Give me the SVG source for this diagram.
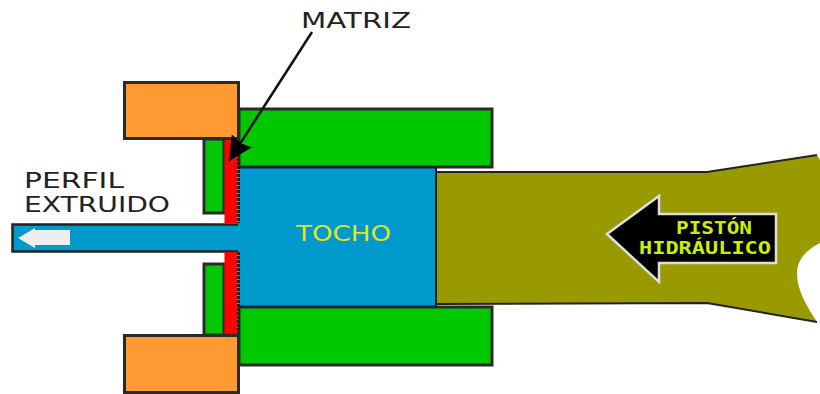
<svg xmlns="http://www.w3.org/2000/svg" width="820" height="394" viewBox="0 0 820 394">
<style>
.k{stroke:#2a2a2a;stroke-width:3}
.o{fill:#ff9a33}.g{fill:#00c800}.b{fill:#0099cc}.r{fill:#ff0000}
.t{font-family:"DejaVu Sans",sans-serif;font-size:22px;fill:#222}
.y{font-family:"DejaVu Sans Mono","Liberation Mono",monospace;font-weight:700;font-size:17px;fill:#c8f000}
</style>
<defs><marker id="ah" markerUnits="userSpaceOnUse" markerWidth="28" markerHeight="28" refX="24" refY="12" orient="auto"><path d="M0,0 L24,12 L0,24 L3,12 Z" fill="#000"/></marker></defs>
<rect width="820" height="394" fill="#fff"/>
<g id="piston">
<path d="M436,172 L707,172 L817,155 L820,160 L820,243 C806,250 797,260 797,273 C797,290 806,305 817,322 L707,303 L436,304 Z" fill="#999900"/>
<path d="M436,172 L707,172 L817,155 M817,322 L707,303 L436,304" fill="none" stroke="#222" stroke-width="2"/>
</g>
<g id="contenedor-superior"><rect class="g k" x="239" y="109" width="253" height="58"/></g>
<g id="contenedor-inferior"><rect class="g k" x="239" y="307" width="253" height="58"/></g>
<g id="perfil"><path class="b" d="M12.500,224.500 H238 V167 H436 V307 H238 V251.500 H12.500 Z"/>
<path d="M238,224.500 H12.500 V251.500 H238" fill="none" stroke="#222" stroke-width="2.500"/>
<path d="M238,167.500 H436 V306.500 H238" fill="none" stroke="#123" stroke-width="2"/>
<path d="M70,230 H35 V228 L18,238 L35,248 V245 H70 Z" fill="#eeeeee"/></g>
<g id="soporte-superior"><rect class="g k" x="204" y="139" width="20" height="74"/></g>
<g id="soporte-inferior"><rect class="g k" x="204" y="264" width="20" height="71"/></g>
<g id="matriz"><rect class="r" x="224.500" y="139" width="13" height="84"/><rect class="r" x="224.500" y="252" width="13" height="83"/>
<path d="M238.500,110 V223 M238.500,252 V365" stroke="#222" stroke-width="3" stroke-dasharray="3 1"/></g>
<g id="anillo-superior"><rect class="o k" x="124.500" y="82.500" width="114" height="56"/></g>
<g id="anillo-inferior"><rect class="o k" x="124.500" y="335.500" width="114" height="57"/></g>
<g id="flecha-piston"><path d="M607,234 L659,196 V214 H776 V263 H659 V282 Z" fill="#000" stroke="#ddd" stroke-width="2.500"/>
<text class="y" x="676" y="234" textLength="76" lengthAdjust="spacingAndGlyphs">PISTÓN</text><text class="y" x="639" y="254" textLength="132" lengthAdjust="spacingAndGlyphs">HIDRÁULICO</text></g>
<g id="connectors"><path d="M312,32 L229,161" fill="none" stroke="#111" stroke-width="2.500" marker-end="url(#ah)"/></g>
<text class="t" x="301" y="28" textLength="110" lengthAdjust="spacingAndGlyphs">MATRIZ</text>
<text class="t" x="24" y="188" textLength="100" lengthAdjust="spacingAndGlyphs">PERFIL</text>
<text class="t" x="24" y="212" textLength="146" lengthAdjust="spacingAndGlyphs">EXTRUIDO</text>
<text x="296" y="241" font-family="DejaVu Sans,sans-serif" font-size="22" fill="#e4e41e" textLength="95" lengthAdjust="spacingAndGlyphs">TOCHO</text>
</svg>
